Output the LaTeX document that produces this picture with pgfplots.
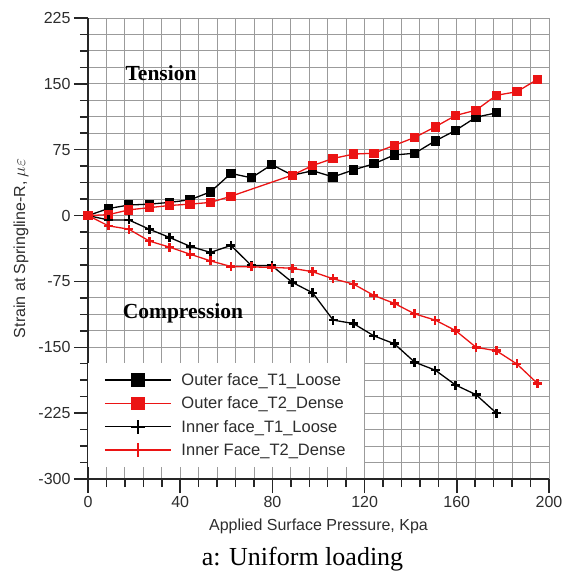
\documentclass[border=0pt]{standalone}
\usepackage{pgfplots}
\pgfplotsset{compat=1.18}
\usepackage{fontspec}
\setmainfont{Liberation Sans}
\newfontfamily\timesfont{Liberation Serif}
\definecolor{myred}{RGB}{235,20,20}
\definecolor{gridgray}{RGB}{155,155,155}
\definecolor{txt}{RGB}{45,45,45}
\pgfdeclareplotmark{thickplus}{%
  \pgfsetlinewidth{2.6pt}\pgfsetbuttcap
  \pgfpathmoveto{\pgfqpoint{-\pgfplotmarksize}{0pt}}\pgfpathlineto{\pgfqpoint{\pgfplotmarksize}{0pt}}%
  \pgfpathmoveto{\pgfqpoint{0pt}{-\pgfplotmarksize}}\pgfpathlineto{\pgfqpoint{0pt}{\pgfplotmarksize}}%
  \pgfusepathqstroke}
\begin{document}
\begin{tikzpicture}
\begin{axis}[
  name=ax, scale only axis, width=461pt, height=461pt,
  xmin=0, xmax=200, ymin=-300, ymax=225,
  axis x line*=bottom, axis y line*=left,
  xtick={0,40,...,200}, ytick={-300,-225,...,225},
  minor x tick num=4, minor y tick num=3,
  grid=both,
  major grid style={gridgray, line width=0.9pt},
  minor grid style={gridgray, line width=0.9pt},
  axis line style={line width=1.8pt, black!85, -},
  tick style={line width=1.5pt, black!85},
  tick align=outside, major tick length=14pt, minor tick length=8pt,
  ticklabel style={font=\fontsize{16}{19}\selectfont, text=txt},
  /pgf/number format/assume math mode=true,
  xlabel={Applied Surface Pressure, Kpa},
  xlabel style={yshift=-4pt},
  ylabel={Strain at Springline-R, $\mu\varepsilon$},
  ylabel style={yshift=3pt},
  label style={font=\fontsize{16}{19}\selectfont, text=txt},
  legend cell align=left,
  legend style={at={(rel axis cs:0,0.2516)}, anchor=north west, draw=none, fill=white,
    inner xsep=16pt, inner ysep=8pt, row sep=6pt, column sep=8pt,
    font=\fontsize{16.5}{19}\selectfont, text=txt},
  legend image code/.code={\draw[mark repeat=2,mark phase=2,#1, every mark/.append style={scale=1.5}] plot coordinates {(0pt,0pt) (33pt,0pt) (66pt,0pt)};},
]
\addplot[black, line width=1.3pt, mark=square*, mark size=4pt] coordinates {
(0,0) (8.86,8) (17.72,12) (26.58,13) (35.44,15) (44.3,18) (53.16,27) (62.02,48) (70.88,43) (79.74,58) (88.6,46) (97.46,51) (106.32,44) (115.18,52) (124.04,59) (132.9,69) (141.76,71) (150.62,85) (159.48,97) (168.34,112) (177.2,117)};
\addlegendentry{Outer face\_T1\_Loose}
\addplot[myred, line width=1.3pt, mark=square*, mark size=4pt] coordinates {
(0,0) (8.86,1) (17.72,6.5) (26.58,9) (35.44,11.5) (44.3,13) (53.16,15) (62.02,22) (88.6,46) (97.46,57) (106.32,65) (115.18,70) (124.04,71) (132.9,80) (141.76,89) (150.62,101) (159.48,114) (168.34,120) (177.2,137) (186.06,141) (194.92,155)};
\addlegendentry{Outer face\_T2\_Dense}
\addplot[black, line width=1.3pt, mark=thickplus, mark size=4.5pt] coordinates {
(0,0) (8.86,-5) (17.72,-5) (26.58,-15.5) (35.44,-25) (44.3,-35) (53.16,-42) (62.02,-34) (70.88,-57) (79.74,-57) (88.6,-76) (97.46,-88) (106.32,-119) (115.18,-123) (124.04,-137) (132.9,-146) (141.76,-167) (150.62,-176) (159.48,-193) (168.34,-204) (177.2,-225)};
\addlegendentry{Inner face\_T1\_Loose}
\addplot[myred, line width=1.3pt, mark=thickplus, mark size=4.5pt] coordinates {
(0,0) (8.86,-11.7) (17.72,-15.5) (26.58,-29) (35.44,-36) (44.3,-44) (53.16,-51.6) (62.02,-58) (70.88,-58.5) (79.74,-59) (88.6,-60) (97.46,-64) (106.32,-72) (115.18,-78) (124.04,-91) (132.9,-100) (141.76,-112) (150.62,-119) (159.48,-131) (168.34,-150) (177.2,-154) (186.06,-169) (194.92,-191)};
\addlegendentry{Inner Face\_T2\_Dense}
\node[font=\timesfont\bfseries\fontsize{21.5}{25}\selectfont] at (axis cs:31.7,162.6) {Tension};
\node[font=\timesfont\bfseries\fontsize{21.5}{25}\selectfont] at (axis cs:41.2,-111) {Compression};
\end{axis}
\node[font=\timesfont\fontsize{26}{30}\selectfont] at ([shift={(-16pt,-80pt)}]ax.south) {a: Uniform loading};
\pgfresetboundingbox
\path ([shift={(-88pt,-96pt)}]ax.south west) rectangle ([shift={(14pt,18pt)}]ax.north east);
\end{tikzpicture}
\end{document}
